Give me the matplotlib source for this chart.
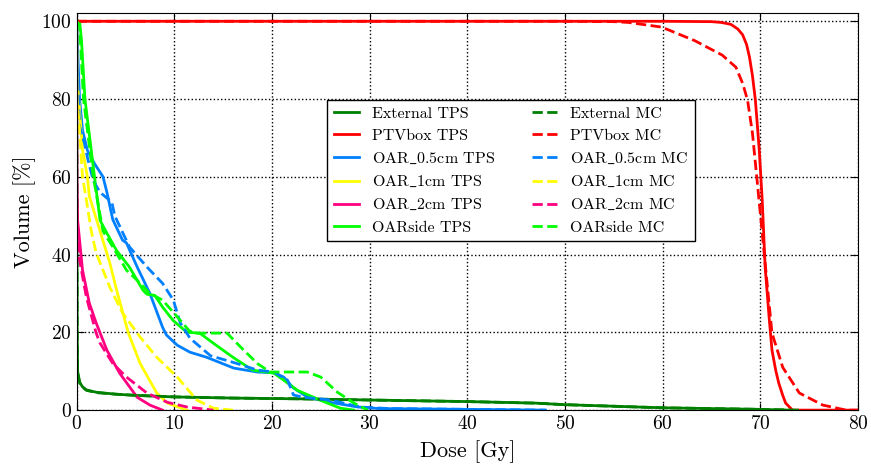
import matplotlib
matplotlib.use("Agg")
import matplotlib.pyplot as plt

# Dose-volume histograms: dose in Gy, volume in %
ext_tps_dose = [0, 0.02, 0.05, 0.1, 0.3, 0.6, 1.0, 2.0, 4, 6, 10, 16, 23, 30, 40, 47, 50, 55, 60, 65, 70, 73]
ext_tps_vol = [100, 60, 20, 10, 7.2, 6.0, 5.2, 4.6, 4.1, 3.8, 3.4, 3.1, 2.9, 2.6, 2.2, 1.8, 1.4, 1.0, 0.6, 0.4, 0.2, 0]
ext_mc_dose = [0, 0.02, 0.05, 0.1, 0.3, 0.6, 1.0, 2.0, 4, 6, 10, 16, 23, 30, 40, 47, 50, 55, 60, 65, 70, 74]
ext_mc_vol = [100, 58, 19, 9.8, 7.1, 5.9, 5.1, 4.5, 4.1, 3.8, 3.4, 3.1, 2.9, 2.6, 2.2, 1.8, 1.4, 1.0, 0.6, 0.4, 0.2, 0]

ptv_tps_dose = [0, 60, 65, 66, 67, 67.7, 68.2, 68.6, 68.9, 69.2, 69.5, 69.9, 70.2, 70.5, 70.9, 71.2, 71.6, 71.9, 72.3, 72.6, 73.3, 80]
ptv_tps_vol = [100, 100, 99.9, 99.7, 99.2, 98, 96.5, 94, 90.7, 86, 79.7, 66.8, 54, 36.8, 24, 15.4, 10, 6.9, 3.8, 1.8, 0, 0]
ptv_mc_dose = [0, 50, 55, 56.5, 59.9, 63.3, 66.1, 67.5, 68.2, 68.7, 69.2, 69.7, 70.2, 70.7, 71.2, 72.3, 74.0, 76.4, 78.8, 80]
ptv_mc_vol = [100, 100, 99.9, 99.7, 98.5, 95, 91.3, 88.2, 84, 79.7, 71.2, 58.4, 45.5, 32.6, 19.8, 11, 4.4, 1.3, 0, 0]

oar05_tps_dose = [0, 0.05, 0.3, 0.6, 1.1, 1.8, 2.7, 3.1, 3.7, 4.7, 5.1, 6.2, 7.5, 8.8, 9.2, 10.3, 11.6, 13.3, 16.1, 18.5, 20.2, 21.2, 22.2, 23.6, 26, 28.8, 31, 40, 48]
oar05_tps_vol = [100, 96, 80, 72, 66.8, 63.5, 60, 56, 49, 43.7, 43, 36.8, 30, 21.3, 19.3, 16.7, 14.9, 13.6, 10.8, 9.8, 9.6, 8.5, 5.7, 3.4, 2.0, 0.8, 0.4, 0.2, 0]
oar05_mc_dose = [0, 0.05, 0.3, 0.8, 1.1, 1.7, 2.4, 3.6, 3.9, 5.4, 7.2, 8.8, 9.9, 10.6, 11.6, 13.7, 16.4, 18.5, 20.2, 21.6, 22.2, 23.2, 26, 29, 32, 40, 48]
oar05_mc_vol = [100, 90, 73, 68.6, 65, 59, 56, 53.5, 50, 42, 36.8, 32.6, 28.3, 22.5, 18.5, 14, 12, 10.3, 9.8, 7.7, 3.9, 3.3, 2.6, 0.8, 0.4, 0.2, 0]

oar1_tps_dose = [0, 0.05, 0.3, 0.6, 1.1, 1.3, 2.4, 3.4, 4.1, 5.3, 6.5, 8.2, 9.3, 11.3]
oar1_tps_vol = [100, 85, 77, 67, 60, 55, 46, 37.8, 30.8, 19.8, 12, 4.4, 1.8, 0]
oar1_mc_dose = [0, 0.05, 0.3, 0.6, 1.0, 1.5, 2.0, 3.4, 4.7, 6.5, 8.2, 10.3, 12.3, 14, 16]
oar1_mc_vol = [100, 80, 72, 60, 54, 46, 40.4, 31.6, 25, 18.8, 13.6, 8.5, 2.6, 0.5, 0]

oar2_tps_dose = [0, 0.02, 0.1, 0.3, 0.6, 1.3, 2.0, 3.1, 4.4, 6.2, 7.5, 8.8]
oar2_tps_vol = [100, 60, 48.8, 43.7, 36, 27.5, 22.4, 15.4, 9.5, 3.3, 1.3, 0]
oar2_mc_dose = [0, 0.02, 0.1, 0.3, 1.0, 2.0, 2.4, 3.7, 5.1, 7.2, 9.3, 11.3, 14]
oar2_mc_vol = [100, 55, 43.7, 38.6, 29, 19.8, 17.2, 12, 8.5, 4.4, 2.0, 0.8, 0]

side_tps_dose = [0, 0.3, 0.5, 0.85, 1.85, 2.4, 3.1, 4.1, 5.4, 6.8, 7.2, 8.0, 8.8, 9.9, 11.3, 12.6, 14, 16, 18, 20.2, 21.2, 22.6, 24.9, 27, 28.4]
side_tps_vol = [100, 100, 95, 80, 59.6, 48.8, 45.5, 41, 36.8, 30.8, 29.8, 29.5, 26.5, 23, 20, 19.8, 17.2, 13.6, 10.3, 9.5, 7.7, 5.1, 2.6, 0.5, 0]
side_mc_dose = [0, 0.3, 0.7, 1.7, 2.7, 3.7, 5.1, 6.2, 7.5, 8.8, 10.3, 11.5, 12.0, 15.4, 16.8, 18.5, 19.8, 23.6, 25, 26.7, 28.4, 29.8]
side_mc_vol = [100, 99, 80, 60, 46, 42, 36, 33.4, 30, 28.3, 24, 20.5, 19.8, 19.8, 16.2, 12, 9.8, 9.8, 8.5, 4.6, 1.8, 0]

names = ["External", "PTVbox", "OAR$\\_$0.5cm", "OAR$\\_$1cm", "OAR$\\_$2cm", "OARside"]
colors = ["#008000", "#ff0000", "#0080ff", "#ffff00", "#ff0080", "#00ff00"]
tps = [(ext_tps_dose, ext_tps_vol), (ptv_tps_dose, ptv_tps_vol), (oar05_tps_dose, oar05_tps_vol),
       (oar1_tps_dose, oar1_tps_vol), (oar2_tps_dose, oar2_tps_vol), (side_tps_dose, side_tps_vol)]
mc = [(ext_mc_dose, ext_mc_vol), (ptv_mc_dose, ptv_mc_vol), (oar05_mc_dose, oar05_mc_vol),
      (oar1_mc_dose, oar1_mc_vol), (oar2_mc_dose, oar2_mc_vol), (side_mc_dose, side_mc_vol)]

plt.rcParams["font.family"] = "serif"
plt.rcParams["font.serif"] = ["cmr10", "DejaVu Serif"]
plt.rcParams["mathtext.fontset"] = "cm"
plt.rcParams["axes.formatter.use_mathtext"] = True
plt.rcParams["xtick.direction"] = "in"
plt.rcParams["ytick.direction"] = "in"
plt.rcParams["xtick.top"] = True
plt.rcParams["ytick.right"] = True

fig = plt.figure(figsize=(8.71, 4.65), dpi=100)
ax = fig.add_axes([0.088, 0.118, 0.897, 0.853])

for (d, v), name, c in zip(tps, names, colors):
    ax.plot(d, v, color=c, lw=2, label=name + " TPS")
for (d, v), name, c in zip(mc, names, colors):
    ax.plot(d, v, color=c, lw=2, ls="--", label=name + " MC")

ax.set_xlim(0, 80)
ax.set_ylim(0, 102)
ax.set_xticks(range(0, 81, 10))
ax.set_yticks(range(0, 101, 20))
ax.tick_params(labelsize=14, length=5, width=0.8)
ax.grid(True, color="k", ls=":", lw=1)
ax.set_xlabel("Dose [Gy]", fontsize=16, labelpad=5)
ax.set_ylabel("Volume [%]", fontsize=16, labelpad=4)

leg = ax.legend(ncol=2, loc="center", bbox_to_anchor=(0.556, 0.604), fontsize=11.5,
                fancybox=False, framealpha=1, edgecolor="k", handlelength=1.6,
                columnspacing=2.3, labelspacing=0.5)
leg.get_frame().set_linewidth(1.0)

fig.savefig("out.png", dpi=100)
